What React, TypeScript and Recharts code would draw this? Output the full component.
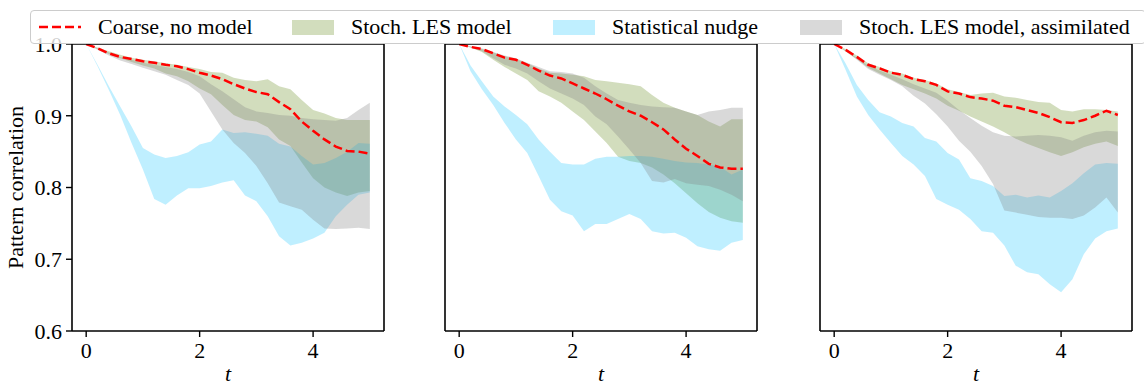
import { ComposedChart, Area, Line, XAxis, YAxis, ReferenceLine } from 'recharts'

const T = [0, 0.2, 0.4, 0.6, 0.8, 1.0, 1.2, 1.4, 1.6, 1.8, 2.0, 2.2, 2.4, 2.6, 2.8, 3.0, 3.2, 3.4, 3.6, 3.8, 4.0, 4.2, 4.4, 4.6, 4.8, 5.0]

// panel 1
const red1 = [1.0, 0.994, 0.987, 0.982, 0.979, 0.976, 0.974, 0.971, 0.969, 0.965, 0.960, 0.956, 0.951, 0.944, 0.938, 0.933, 0.930, 0.919, 0.909, 0.892, 0.879, 0.867, 0.857, 0.851, 0.850, 0.847]
const olive1Hi = [1.0, 0.995, 0.990, 0.985, 0.981, 0.978, 0.976, 0.973, 0.971, 0.968, 0.965, 0.961, 0.960, 0.953, 0.950, 0.948, 0.951, 0.941, 0.937, 0.922, 0.908, 0.903, 0.897, 0.894, 0.894, 0.894]
const olive1Lo = [1.0, 0.993, 0.986, 0.980, 0.975, 0.970, 0.966, 0.959, 0.955, 0.948, 0.938, 0.930, 0.915, 0.901, 0.894, 0.892, 0.884, 0.867, 0.858, 0.835, 0.813, 0.800, 0.793, 0.788, 0.793, 0.795]
const blue1Hi = [1.0, 0.971, 0.941, 0.913, 0.885, 0.855, 0.846, 0.841, 0.844, 0.849, 0.860, 0.864, 0.881, 0.876, 0.877, 0.875, 0.872, 0.861, 0.857, 0.844, 0.832, 0.834, 0.841, 0.850, 0.862, 0.861]
const blue1Lo = [1.0, 0.969, 0.936, 0.901, 0.862, 0.825, 0.784, 0.776, 0.789, 0.799, 0.799, 0.802, 0.807, 0.810, 0.789, 0.781, 0.760, 0.732, 0.719, 0.723, 0.729, 0.737, 0.760, 0.776, 0.790, 0.793]
const gray1Hi = [1.0, 0.994, 0.988, 0.982, 0.978, 0.974, 0.971, 0.968, 0.965, 0.961, 0.955, 0.944, 0.934, 0.923, 0.912, 0.906, 0.904, 0.901, 0.900, 0.897, 0.895, 0.894, 0.893, 0.897, 0.908, 0.918]
const gray1Lo = [1.0, 0.992, 0.984, 0.977, 0.972, 0.967, 0.962, 0.957, 0.950, 0.943, 0.931, 0.906, 0.881, 0.862, 0.848, 0.830, 0.806, 0.779, 0.774, 0.769, 0.755, 0.743, 0.742, 0.743, 0.744, 0.742]

// panel 2
const red2 = [1.0, 0.996, 0.993, 0.987, 0.981, 0.978, 0.971, 0.963, 0.956, 0.952, 0.945, 0.938, 0.931, 0.923, 0.914, 0.906, 0.900, 0.891, 0.881, 0.867, 0.854, 0.844, 0.833, 0.828, 0.826, 0.826]
const olive2Hi = [1.0, 0.996, 0.993, 0.988, 0.983, 0.979, 0.973, 0.966, 0.960, 0.959, 0.957, 0.955, 0.950, 0.948, 0.946, 0.944, 0.941, 0.929, 0.918, 0.911, 0.906, 0.901, 0.892, 0.885, 0.895, 0.895]
const olive2Lo = [1.0, 0.995, 0.989, 0.978, 0.968, 0.959, 0.950, 0.934, 0.927, 0.918, 0.906, 0.894, 0.878, 0.862, 0.843, 0.837, 0.834, 0.828, 0.818, 0.806, 0.792, 0.778, 0.766, 0.758, 0.753, 0.751]
const blue2Hi = [1.0, 0.970, 0.948, 0.927, 0.913, 0.901, 0.888, 0.867, 0.850, 0.834, 0.832, 0.832, 0.840, 0.843, 0.843, 0.844, 0.844, 0.843, 0.840, 0.837, 0.835, 0.834, 0.832, 0.829, 0.818, 0.825]
const blue2Lo = [1.0, 0.962, 0.937, 0.915, 0.890, 0.867, 0.848, 0.816, 0.783, 0.767, 0.761, 0.739, 0.749, 0.749, 0.756, 0.763, 0.756, 0.739, 0.736, 0.737, 0.730, 0.718, 0.714, 0.712, 0.723, 0.727]
const gray2Hi = [1.0, 0.997, 0.994, 0.989, 0.984, 0.980, 0.974, 0.968, 0.962, 0.961, 0.959, 0.953, 0.941, 0.931, 0.922, 0.918, 0.915, 0.913, 0.912, 0.911, 0.906, 0.901, 0.906, 0.908, 0.911, 0.911]
const gray2Lo = [1.0, 0.995, 0.990, 0.980, 0.971, 0.966, 0.959, 0.948, 0.938, 0.931, 0.924, 0.915, 0.899, 0.888, 0.871, 0.853, 0.834, 0.809, 0.807, 0.812, 0.806, 0.804, 0.802, 0.797, 0.790, 0.781]

// panel 3
const red3 = [1.0, 0.992, 0.982, 0.971, 0.966, 0.960, 0.957, 0.951, 0.948, 0.943, 0.934, 0.931, 0.926, 0.924, 0.921, 0.914, 0.912, 0.908, 0.904, 0.898, 0.891, 0.890, 0.894, 0.900, 0.907, 0.901]
const olive3Hi = [1.0, 0.993, 0.984, 0.973, 0.968, 0.962, 0.959, 0.953, 0.950, 0.945, 0.937, 0.933, 0.929, 0.931, 0.932, 0.927, 0.925, 0.922, 0.919, 0.918, 0.908, 0.906, 0.909, 0.909, 0.908, 0.906]
const olive3Lo = [1.0, 0.990, 0.979, 0.967, 0.959, 0.951, 0.943, 0.937, 0.931, 0.924, 0.914, 0.907, 0.899, 0.892, 0.885, 0.877, 0.868, 0.861, 0.855, 0.849, 0.844, 0.849, 0.856, 0.861, 0.864, 0.858]
const blue3Hi = [1.0, 0.973, 0.943, 0.922, 0.905, 0.899, 0.890, 0.885, 0.869, 0.864, 0.848, 0.839, 0.813, 0.809, 0.802, 0.788, 0.790, 0.786, 0.789, 0.786, 0.795, 0.806, 0.820, 0.832, 0.834, 0.833]
const blue3Lo = [1.0, 0.964, 0.927, 0.901, 0.881, 0.862, 0.844, 0.832, 0.816, 0.784, 0.776, 0.769, 0.756, 0.739, 0.737, 0.719, 0.691, 0.682, 0.679, 0.665, 0.654, 0.672, 0.707, 0.729, 0.739, 0.743]
const gray3Hi = [1.0, 0.991, 0.981, 0.970, 0.963, 0.957, 0.951, 0.944, 0.938, 0.932, 0.921, 0.908, 0.897, 0.886, 0.877, 0.872, 0.871, 0.872, 0.873, 0.872, 0.870, 0.865, 0.872, 0.877, 0.879, 0.878]
const gray3Lo = [1.0, 0.990, 0.978, 0.965, 0.957, 0.950, 0.941, 0.928, 0.917, 0.902, 0.885, 0.865, 0.850, 0.830, 0.805, 0.768, 0.765, 0.762, 0.759, 0.758, 0.758, 0.756, 0.761, 0.772, 0.786, 0.765]

const Y_TICKS = [0.6, 0.7, 0.8, 0.9, 1.0]
const X_TICKS = [0, 2, 4]
const X_DOMAIN = [-0.25, 5.25]
const Y_DOMAIN = [0.6, 1.0]

const OLIVE = '#6b8e23'
const BLUE = '#00bfff'
const GRAY = '#808080'
const FONT = '"Liberation Serif", "Times New Roman", serif'

const SERIES = [
  { name: 'Coarse, no model', kind: 'line', color: '#ff0000', opacity: 1, width: 253 },
  { name: 'Stoch. LES model', kind: 'patch', color: OLIVE, opacity: 0.3, width: 261 },
  { name: 'Statistical nudge', kind: 'patch', color: BLUE, opacity: 0.25, width: 247 },
  { name: 'Stoch. LES model, assimilated', kind: 'patch', color: GRAY, opacity: 0.3, width: 320 },
]

function rows(red: number[], oLo: number[], oHi: number[], bLo: number[], bHi: number[], gLo: number[], gHi: number[]) {
  return T.map((t, i) => ({
    t,
    red: red[i],
    olive: [oLo[i], oHi[i]],
    blue: [bLo[i], bHi[i]],
    gray: [gLo[i], gHi[i]],
  }))
}

// left = where the chart's svg starts, yWidth = room for the y axis
const PANELS = [
  { left: 0, yWidth: 72, data: rows(red1, olive1Lo, olive1Hi, blue1Lo, blue1Hi, gray1Lo, gray1Hi), labels: true },
  { left: 385, yWidth: 60, data: rows(red2, olive2Lo, olive2Hi, blue2Lo, blue2Hi, gray2Lo, gray2Hi), labels: false },
  { left: 760, yWidth: 60, data: rows(red3, olive3Lo, olive3Hi, blue3Lo, blue3Hi, gray3Lo, gray3Hi), labels: false },
]

const axisLine = { stroke: '#000', strokeWidth: 1.6 }
const tickLine = { stroke: '#000', strokeWidth: 1.4 }
const tickStyle = { fontSize: 22, fill: '#000', fontFamily: FONT }

function Panel({ data, labels, yWidth }: { data: any[]; labels: boolean; yWidth: number }) {
  return (
    <ComposedChart width={yWidth + 312 + 4} height={385} data={data} margin={{ top: 44, right: 4, bottom: 0, left: 0 }}>
      <Area dataKey="olive" type="linear" fill={OLIVE} fillOpacity={0.3} stroke="none" isAnimationActive={false} />
      <Area dataKey="blue" type="linear" fill={BLUE} fillOpacity={0.25} stroke="none" isAnimationActive={false} />
      <Area dataKey="gray" type="linear" fill={GRAY} fillOpacity={0.3} stroke="none" isAnimationActive={false} />
      <Line dataKey="red" type="linear" stroke="#ff0000" strokeWidth={2.5} strokeDasharray="9 4" dot={false} isAnimationActive={false} />
      <ReferenceLine x={X_DOMAIN[1]} stroke="#000" strokeWidth={1.6} />
      <ReferenceLine y={Y_DOMAIN[1]} stroke="#000" strokeWidth={1.6} />
      <XAxis dataKey="t" type="number" domain={X_DOMAIN} ticks={X_TICKS} height={54}
        axisLine={axisLine} tickLine={tickLine} tickSize={6} tickMargin={5} tick={tickStyle}
        label={{ value: 't', position: 'insideBottom', offset: 4, style: { fontSize: 22, fontStyle: 'italic', fill: '#000', fontFamily: FONT } }} />
      <YAxis type="number" domain={Y_DOMAIN} ticks={Y_TICKS} width={yWidth} allowDataOverflow
        axisLine={axisLine} tickLine={tickLine} tickSize={6} tickMargin={4}
        tick={labels ? tickStyle : false}
        tickFormatter={(v: number) => v.toFixed(1)}
        label={labels ? { value: 'Pattern correlation', angle: -90, position: 'insideLeft', offset: 15, style: { fontSize: 22, fill: '#000', fontFamily: FONT, textAnchor: 'middle' } } : undefined} />
    </ComposedChart>
  )
}

function LegendBox() {
  return (
    <div style={{
      position: 'absolute', left: 30, top: 10, width: 1106, height: 32,
      border: '1px solid #cccccc', borderRadius: 4, background: 'rgba(255,255,255,0.8)',
      display: 'flex', alignItems: 'center', paddingLeft: 8, boxSizing: 'content-box',
      fontFamily: FONT, fontSize: 22, color: '#000', zIndex: 5,
    }}>
      {SERIES.map(s => (
        <div key={s.name} style={{ display: 'flex', alignItems: 'center', width: s.width, flex: 'none' }}>
          {s.kind === 'line' ? (
            <svg width={42} height={16} style={{ flex: 'none' }}>
              <line x1={0} y1={8} x2={42} y2={8} stroke={s.color} strokeWidth={2.5} strokeDasharray="9 4" />
            </svg>
          ) : (
            <div style={{ width: 42, height: 15, background: s.color, opacity: s.opacity, flex: 'none' }} />
          )}
          <span style={{ marginLeft: 17, whiteSpace: 'nowrap' }}>{s.name}</span>
        </div>
      ))}
    </div>
  )
}

export default function App() {
  return (
    <div style={{ position: 'absolute', left: 0, top: 0, width: 1144, height: 385, background: '#fff', overflow: 'hidden' }}>
      {PANELS.map((p, i) => (
        <div key={i} style={{ position: 'absolute', left: p.left, top: 0 }}>
          <Panel data={p.data} labels={p.labels} yWidth={p.yWidth} />
        </div>
      ))}
      <LegendBox />
    </div>
  )
}
